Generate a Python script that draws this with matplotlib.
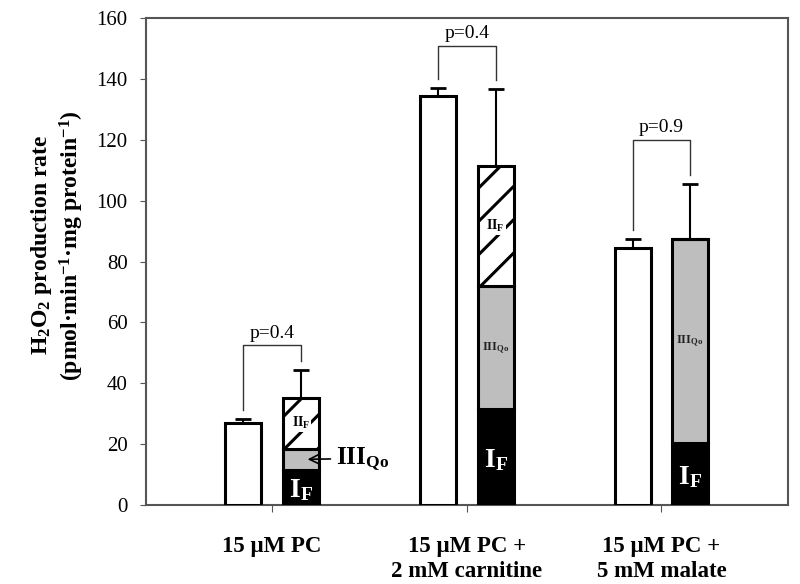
import numpy as np
import matplotlib
matplotlib.use("Agg")
import matplotlib.pyplot as plt

plt.rcParams['font.family'] = ['Liberation Serif', 'DejaVu Serif']
plt.rcParams['mathtext.fontset'] = 'custom'
plt.rcParams['mathtext.rm'] = 'Liberation Serif:bold'
plt.rcParams['mathtext.bf'] = 'Liberation Serif:bold'
plt.rcParams['mathtext.it'] = 'Liberation Serif:bold'
plt.rcParams['hatch.linewidth'] = 2.2

# data
categories = ["15 \u03bcM PC", "15 \u03bcM PC +\n2 mM carnitine", "15 \u03bcM PC +\n5 mM malate"]
total_rate = [27.0, 134.5, 84.5]
total_err = [1.3, 2.5, 3.0]
site_if = [11.5, 31.5, 20.5]
site_iiiqo = [7.0, 40.5, 67.0]
site_iif = [16.8, 39.3, 0.0]
sum_err = [9.0, 25.3, 18.1]
p_labels = ["p=0.4", "p=0.4", "p=0.9"]
bracket_y = [52.5, 151.0, 120.0]

x = np.arange(1, len(categories) + 1)
off = 0.148
w = 0.185

fig = plt.figure(figsize=(8, 5.84), dpi=100)
ax = fig.add_axes([0.182, 0.1353, 0.803, 0.8334])

lw = 2.2
# total bars (white)
ax.bar(x - off, total_rate, w, color='white', edgecolor='black', linewidth=lw, zorder=3)
ax.errorbar(x - off, total_rate, yerr=[np.zeros(3), total_err], fmt='none',
            ecolor='black', elinewidth=1.5, capsize=5.5, capthick=2, zorder=2)

# stacked bars
b_if = np.array(site_if)
b_iii = b_if + np.array(site_iiiqo)
b_top = b_iii + np.array(site_iif)
ax.bar(x + off, site_if, w, color='black', edgecolor='black', linewidth=lw, zorder=3)
ax.bar(x + off, site_iiiqo, w, bottom=b_if, color='#bebebe', edgecolor='black', linewidth=lw, zorder=3)
ax.bar(x + off, site_iif, w, bottom=b_iii, color='white', edgecolor='black', hatch='/',
       linewidth=lw, zorder=3)
ax.errorbar(x + off, b_top, yerr=[np.zeros(3), sum_err], fmt='none',
            ecolor='black', elinewidth=1.5, capsize=5.5, capthick=2, zorder=2)

# p-value brackets
for i in range(3):
    xl = x[i] - off
    xr = x[i] + off
    yl = total_rate[i] + total_err[i] + 3
    yr = b_top[i] + sum_err[i] + 3
    ax.plot([xl, xl, xr, xr], [yl, bracket_y[i], bracket_y[i], yr], color='#333333', lw=1.0, zorder=4)
    ax.text(x[i], bracket_y[i] + 1.2, p_labels[i], ha='center', va='bottom', fontsize=14)

# labels inside bars
for i in range(3):
    ax.text(x[i] + off, site_if[i] / 2 - 1, r'$\mathrm{I_F}$', color='white', ha='center',
            va='center', fontsize=20, zorder=5)
ax.text(x[0] + off, b_iii[0] + site_iif[0] / 2, r'$\mathrm{II_F}$', ha='center', va='center',
        fontsize=10, zorder=5, bbox=dict(facecolor='white', edgecolor='none', pad=0.5))
ax.text(x[1] + off, b_iii[1] + site_iif[1] / 2, r'$\mathrm{II_F}$', ha='center', va='center',
        fontsize=10, zorder=5, bbox=dict(facecolor='white', edgecolor='none', pad=0.5))
for i in (1, 2):
    ax.text(x[i] + off, b_if[i] + site_iiiqo[i] / 2, r'$\mathrm{III_{Qo}}$', ha='center',
            va='center', fontsize=9, color='#222222', zorder=5)
ax.annotate(r'$\mathrm{III_{Qo}}$', xy=(x[0] + off + 0.02, b_if[0] + site_iiiqo[0] / 2),
            xytext=(x[0] + off + 0.18, b_if[0] + site_iiiqo[0] / 2 + 0.3),
            ha='left', va='center', fontsize=18,
            arrowprops=dict(arrowstyle='->', color='black', lw=1.2), zorder=5)

ax.set_xlim(0.35, 3.65)
ax.set_ylim(0, 160)
ax.set_yticks(np.arange(0, 161, 20))
ax.set_xticks(x)
ax.set_xticklabels(categories, fontsize=16.5, fontweight='bold', linespacing=1.3)
ax.tick_params(axis='y', labelsize=15, direction='out', length=4, pad=9, color='#555555')
ax.tick_params(axis='x', direction='out', length=5, pad=17, color='#555555')
for s in ax.spines.values():
    s.set_color('#555555')
    s.set_linewidth(1.5)

fig.text(0.072, 0.58, "H$_2$O$_2$ production rate\n(pmol\u00b7min$^{-1}$\u00b7mg protein$^{-1}$)",
         rotation=90, ha='center', va='center', fontsize=17, fontweight='bold',
         multialignment='center')

fig.savefig("out.png", dpi=100)
